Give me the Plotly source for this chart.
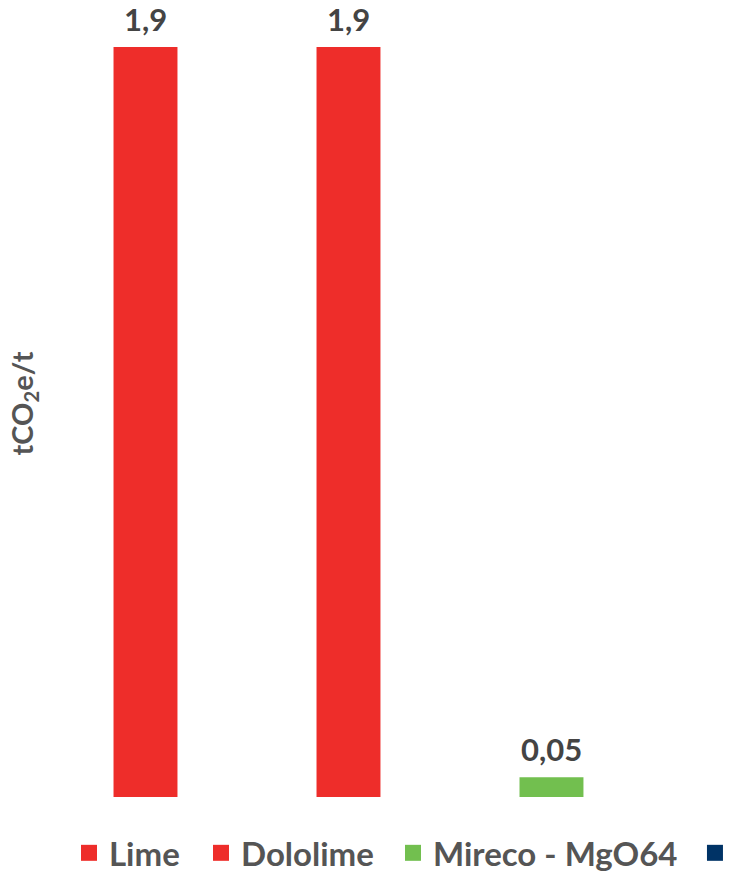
import plotly.graph_objects as go

categories = ["Lime", "Dololime", "Mireco - MgO64", " "]
values = [1.9, 1.9, 0.05, 0]
labels = ["1,9", "1,9", "0,05", ""]
colors = ["#EE2D2A", "#EE2D2A", "#72BF4F", "#003366"]
legend_x = [0.0361, 0.2269, 0.5043, 0.9407]

FONT = "Lato"
legend_names = ["legend", "legend2", "legend3", "legend4"]

fig = go.Figure()
for c, v, col, lg in zip(categories, values, colors, legend_names):
    fig.add_trace(go.Bar(
        x=[c], y=[v], name=c, showlegend=False, legendgroup=c,
        marker=dict(color=col, line=dict(width=0)),
        width=0.315, hoverinfo="skip",
    ))
    fig.add_trace(go.Scatter(
        x=[None], y=[None], mode="markers", name=c, legendgroup=c, legend=lg,
        marker=dict(symbol="square", size=18, color=col),
        showlegend=True,
    ))

for c, v, l in zip(categories, values, labels):
    if l:
        fig.add_annotation(x=c, y=v, text=l, showarrow=False, yanchor="bottom",
                           yshift=8, borderpad=0,
                           font=dict(size=31, family=FONT, color="#444444", weight="bold"))

legend_style = dict(orientation="h", xanchor="left", y=-0.071, yanchor="middle",
                    font=dict(size=33, family=FONT, color="#555555", weight="bold"),
                    itemclick=False, bgcolor="rgba(0,0,0,0)",
                    itemsizing="trace", itemwidth=30)

layout_legends = {name: dict(x=x, **legend_style) for name, x in zip(legend_names, legend_x)}

fig.update_layout(
    width=736, height=873,
    margin=dict(l=44, r=0, t=10, b=76, autoexpand=False),
    paper_bgcolor="white", plot_bgcolor="white",
    barmode="overlay",
    showlegend=True,
    font=dict(family=FONT, color="#555555"),
    xaxis=dict(type="category", categoryarray=categories, range=[-0.5, 2.909],
               showticklabels=False, showgrid=False, zeroline=False, showline=False, ticks=""),
    yaxis=dict(range=[0, 1.9 * 787 / 750], showticklabels=False, showgrid=False,
               zeroline=False, showline=False, ticks="",
               title=dict(text="tCO<sub>2</sub>e/t", font=dict(size=29, family=FONT, color="#555555", weight="bold"), standoff=0)),
    **layout_legends,
)

fig.write_html("out.html")
